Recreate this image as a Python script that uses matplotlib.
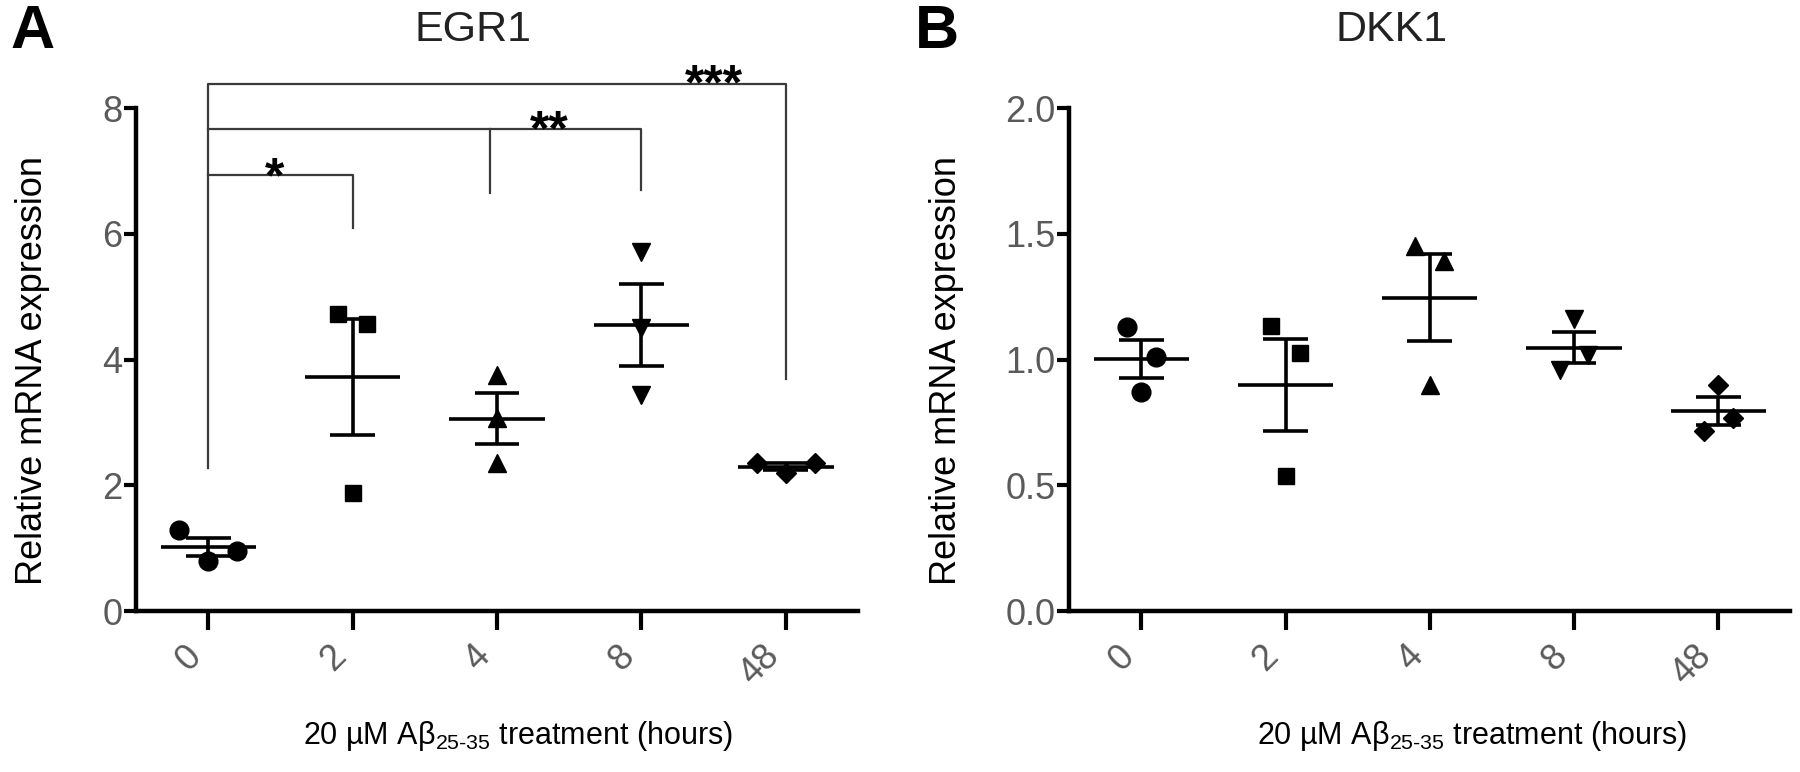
import numpy as np
import matplotlib
matplotlib.use('Agg')
import matplotlib.pyplot as plt

plt.rcParams['font.family'] = ['Liberation Sans', 'DejaVu Sans']
plt.rcParams['mathtext.default'] = 'regular'

hours = ['0', '2', '4', '8', '48']
markers = ['o', 's', '^', 'v', 'D']
marker_sizes = [13.5, 12, 12.5, 12.5, 10]

# three replicates per time point
egr1 = [
    [1.29, 0.80, 0.95],
    [4.73, 4.56, 1.88],
    [3.76, 3.07, 2.35],
    [5.71, 4.50, 3.44],
    [2.35, 2.19, 2.35],
]
dkk1 = [
    [1.13, 1.01, 0.87],
    [1.133, 1.025, 0.538],
    [1.45, 1.39, 0.90],
    [1.163, 0.96, 1.019],
    [0.90, 0.715, 0.768],
]

# horizontal scatter of the replicates
jitter_egr1 = [[-0.2, 0, 0.2], [-0.1, 0.1, 0], [0, 0, 0], [0, 0, 0], [-0.2, 0, 0.2]]
jitter_dkk1 = [[-0.1, 0.1, 0], [-0.1, 0.1, 0], [-0.1, 0.1, 0], [0, -0.1, 0.1], [0, -0.1, 0.1]]

egr1_yticks = [0, 2, 4, 6, 8]
dkk1_yticks = [0.0, 0.5, 1.0, 1.5, 2.0]

tick_gray = '#5a5a5a'
xlabel = '20 µM Aβ$_{25\u201035}$ treatment (hours)'


def dot_plot(ax, data, jitter, ylim, yticks, fmt):
    for i, vals in enumerate(data):
        vals = np.array(vals)
        xs = i + np.array(jitter[i])
        ax.plot(xs, vals, linestyle='none', marker=markers[i], color='black',
                markersize=marker_sizes[i], zorder=3)
        m = vals.mean()
        sem = vals.std(ddof=1) / np.sqrt(len(vals))
        ax.hlines(m, i - 0.33, i + 0.33, color='black', lw=2.6, zorder=4)
        ax.vlines(i, m - sem, m + sem, color='black', lw=2.6, zorder=4)
        ax.hlines([m - sem, m + sem], i - 0.155, i + 0.155, color='black', lw=2.6, zorder=4)
    ax.set_xlim(-0.5, 4.5)
    ax.set_ylim(*ylim)
    ax.set_xticks(range(len(hours)))
    ax.set_xticklabels(hours, rotation=45, ha='right', fontsize=26, color=tick_gray)
    ax.set_yticks(yticks)
    ax.set_yticklabels([fmt % t for t in yticks], fontsize=26, color=tick_gray)
    for s in ['top', 'right']:
        ax.spines[s].set_visible(False)
    for s in ['left', 'bottom']:
        ax.spines[s].set_linewidth(3.2)
    ax.tick_params(axis='x', length=14, width=3, pad=6)
    ax.tick_params(axis='y', length=9, width=3, pad=1)


fig = plt.figure(figsize=(18, 7.72), dpi=100)
ax1 = fig.add_axes([0.0756, 0.2085, 0.4011, 0.6515])
ax2 = fig.add_axes([0.594, 0.2085, 0.4006, 0.6515])

dot_plot(ax1, egr1, jitter_egr1, (0, 8), egr1_yticks, '%d')
dot_plot(ax2, dkk1, jitter_dkk1, (0, 2), dkk1_yticks, '%.1f')

# significance brackets on EGR1
br = dict(color='#3a3a3a', lw=1.6, clip_on=False)
ax1.plot([0, 0, 4, 4], [2.27, 8.39, 8.39, 3.69], **br)
ax1.plot([0, 3, 3], [7.66, 7.66, 6.69], **br)
ax1.plot([1.95, 1.95], [7.66, 6.65], **br)
ax1.plot([0, 1, 1], [6.93, 6.93, 6.09], **br)
star = dict(ha='center', va='baseline', fontsize=36, fontweight='bold', clip_on=False)
ax1.text(3.5, 8.14, '***', **star)
ax1.text(2.36, 7.41, '**', **star)
ax1.text(0.46, 6.66, '*', **star)

fig.text(0.263, 0.961, 'EGR1', ha='center', va='center', fontsize=31, color='#222222')
fig.text(0.773, 0.961, 'DKK1', ha='center', va='center', fontsize=31, color='#222222')
fig.text(0.006, 0.995, 'A', ha='left', va='top', fontsize=44, fontweight='bold')
fig.text(0.508, 0.995, 'B', ha='left', va='top', fontsize=44, fontweight='bold')

fig.text(0.018, 0.52, 'Relative mRNA expression', rotation=90, ha='center', va='center', fontsize=26)
fig.text(0.5256, 0.52, 'Relative mRNA expression', rotation=90, ha='center', va='center', fontsize=26)
fig.text(0.288, 0.047, xlabel, ha='center', va='center', fontsize=22)
fig.text(0.818, 0.047, xlabel, ha='center', va='center', fontsize=22)

fig.savefig('out.png', dpi=100)
